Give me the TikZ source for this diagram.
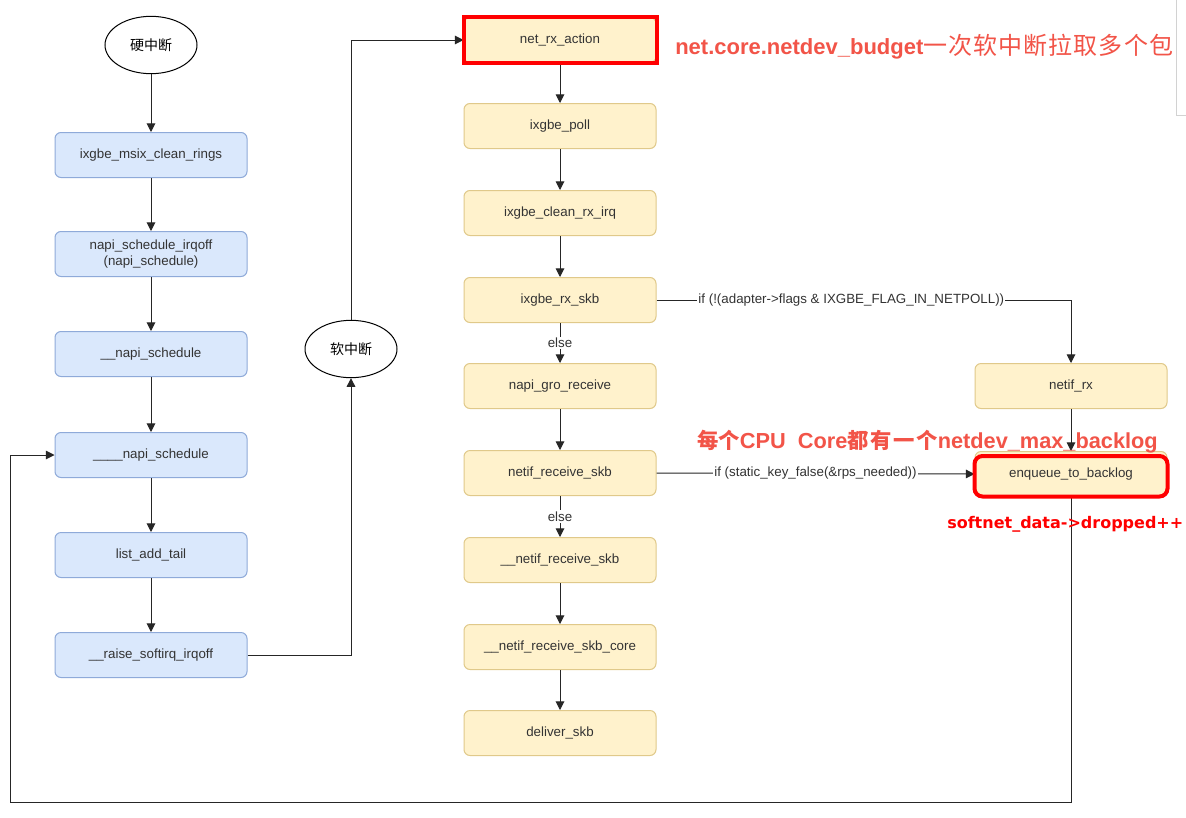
\documentclass[tikz,border=0pt]{standalone}
\usepackage{fontspec}
\usepackage{graphicx}
\setmainfont{Liberation Sans}
\newfontfamily\cjk{Noto Sans CJK SC}
\newfontfamily\dejab{DejaVu Sans}
\usetikzlibrary{arrows.meta,calc,shapes.geometric}
\definecolor{bfill}{HTML}{DAE8FC}
\definecolor{bdraw}{HTML}{8FAAD9}
\definecolor{yfill}{HTML}{FFF2CC}
\definecolor{ydraw}{HTML}{E0C98A}
\definecolor{txt}{HTML}{333333}
\definecolor{salmon}{RGB}{242,84,72}
\begin{document}
\begin{tikzpicture}[x=0.75pt,y=-0.75pt,
  fbox/.style={rounded corners=4.5pt, minimum width=144pt, minimum height=33.75pt,
    font=\fontsize{10}{11.5}\selectfont, text=txt, inner sep=0pt, line width=0.75pt, align=center},
  bluebox/.style={fbox, fill=bfill, draw=bdraw},
  yelbox/.style={fbox, fill=yfill, draw=ydraw},
  ell/.style={ellipse, draw, fill=white, minimum width=69pt, minimum height=43pt,
    inner sep=0pt, font=\cjk\fontsize{10.5}{12}\selectfont, line width=0.75pt},
  arr/.style={-{Triangle[length=6.5pt,width=6.5pt]}, line width=0.75pt, draw=black!85},
  lbl/.style={fill=white, inner sep=1pt, font=\fontsize{10}{12}\selectfont, text=txt},
  redbox/.style={draw=red, line width=3pt}
]
\useasboundingbox[fill=white] (0,0) rectangle (1186,818);
\draw[gray!35, line width=0.75pt] (1176,0) -- (1176,115) -- (1186,115);

% left column
\node[ell] (hw) at (151,45) {硬中断};
\node[bluebox] (b1) at (151,155) {ixgbe\_msix\_clean\_rings};
\node[bluebox] (b2) at (151,254) {napi\_schedule\_irqoff\\(napi\_schedule)};
\node[bluebox] (b3) at (151,354) {\_\_napi\_schedule};
\node[bluebox] (b4) at (151,455) {\_\_\_\_napi\_schedule};
\node[bluebox] (b5) at (151,555) {list\_add\_tail};
\node[bluebox] (b6) at (151,655) {\_\_raise\_softirq\_irqoff};
\node[ell] (soft) at (351,349) {软中断};

% middle column
\node[yelbox] (m1) at (560,40) {net\_rx\_action};
\node[yelbox] (m2) at (560,126) {ixgbe\_poll};
\node[yelbox] (m3) at (560,213) {ixgbe\_clean\_rx\_irq};
\node[yelbox] (m4) at (560,300) {ixgbe\_rx\_skb};
\node[yelbox] (m5) at (560,386) {napi\_gro\_receive};
\node[yelbox] (m6) at (560,473) {netif\_receive\_skb};
\node[yelbox] (m7) at (560,560) {\_\_netif\_receive\_skb};
\node[yelbox] (m8) at (560,647) {\_\_netif\_receive\_skb\_core};
\node[yelbox] (m9) at (560,733) {deliver\_skb};

% right column
\node[yelbox] (nrx) at (1071,386) {netif\_rx};
\node[yelbox] (enq) at (1071,474) {enqueue\_to\_backlog};

% left connectors
\draw[arr] (hw) -- (b1);
\draw[arr] (b1) -- (b2);
\draw[arr] (b2) -- (b3);
\draw[arr] (b3) -- (b4);
\draw[arr] (b4) -- (b5);
\draw[arr] (b5) -- (b6);
\draw[arr] (b6.east) -| (soft.south);
\draw[arr] (soft.north) |- (m1.west);

% middle connectors
\draw[arr] (m1) -- (m2);
\draw[arr] (m2) -- (m3);
\draw[arr] (m3) -- (m4);
\draw[arr] (m4) -- node[lbl]{else} (m5);
\draw[arr] (m5) -- (m6);
\draw[arr] (m6) -- node[lbl]{else} (m7);
\draw[arr] (m7) -- (m8);
\draw[arr] (m8) -- (m9);
\draw[arr] (m4.east) -| node[lbl, pos=0.235]{if (!(adapter->flags \& IXGBE\_FLAG\_IN\_NETPOLL))} (nrx.north);
\draw[arr] (m6.east) -- node[lbl, pos=0.5]{if (static\_key\_false(\&rps\_needed))} (enq.west);
\draw[arr] (nrx) -- (enq);

\coordinate (lb) at (10,802);
\draw[arr] (enq.south) |- (lb) |- (b4.west);

% red highlights
\draw[redbox] (m1.north west) rectangle (m1.south east);
\draw[redbox, rounded corners=6pt] ($(enq.north west)+(0,5)$) rectangle ($(enq.south east)+(0,-0.5)$);

% annotations
\node[anchor=west, inner sep=0pt, text=salmon] (a1) at (675,47)
  {{\bfseries\fontsize{16.5}{18}\selectfont net.core.netdev\_budget}{\cjk\fontsize{18}{20}\selectfont\addfontfeature{LetterSpace=4.5}一次软中断拉取多个包}};
\node[anchor=west, inner sep=0pt, text=salmon] (a2) at (697,442)
  {{\cjk\bfseries\fontsize{16}{18}\selectfont 每个}{\bfseries\fontsize{16.3}{17}\selectfont CPU\ \ Core}{\cjk\bfseries\fontsize{16}{18}\selectfont\addfontfeature{LetterSpace=8}都有一个}{\bfseries\fontsize{16.3}{17}\selectfont netdev\_max\_backlog}};
\node[anchor=west, inner sep=0pt, text=red] (a3) at (947,524)
  {\resizebox{177pt}{\height}{\dejab\bfseries\fontsize{12}{14}\selectfont softnet\_data->dropped++}};
\end{tikzpicture}
\end{document}
